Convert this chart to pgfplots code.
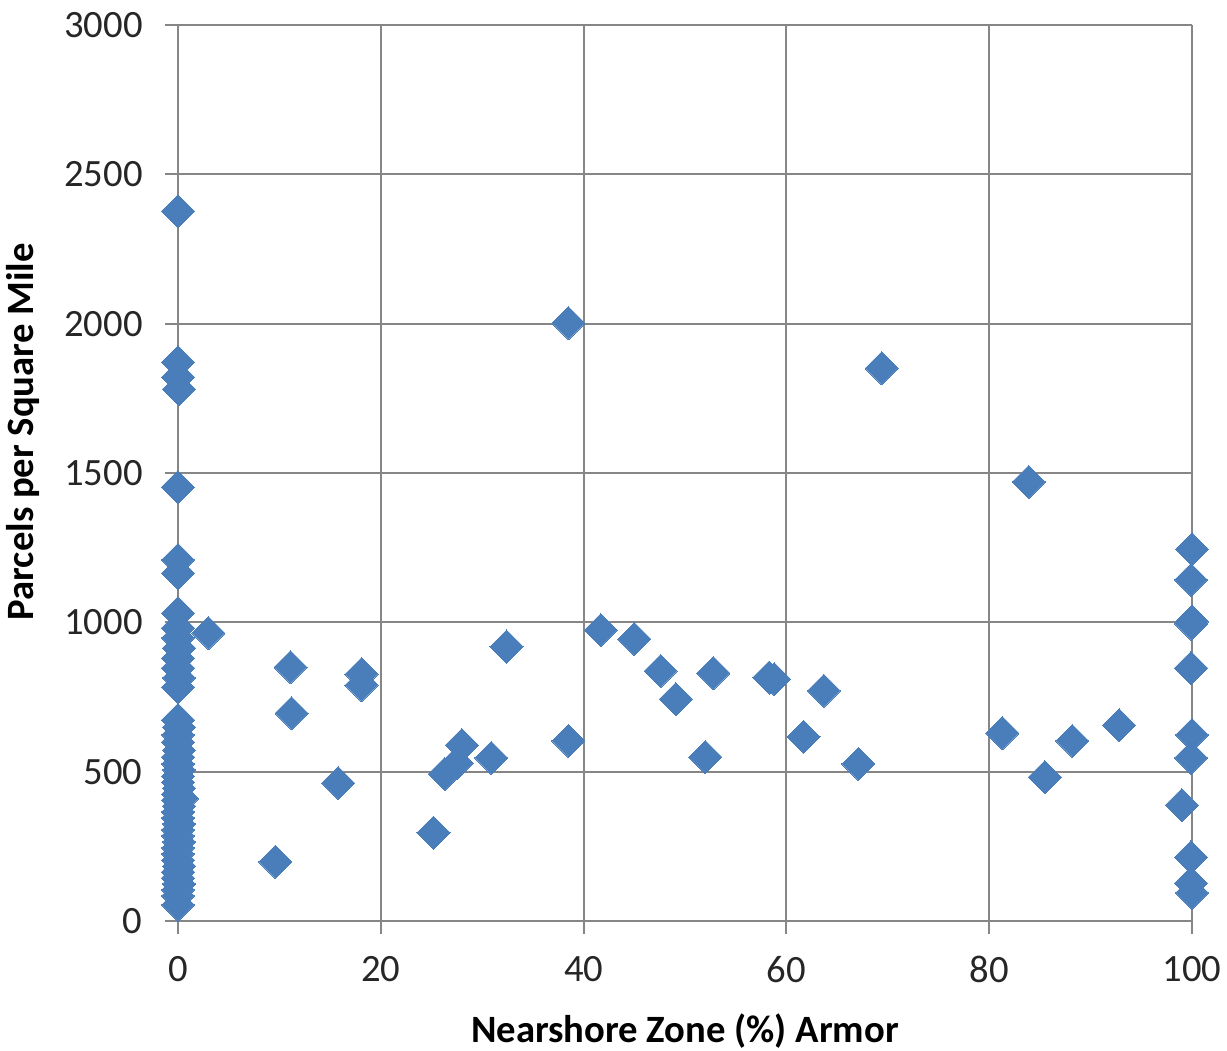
\documentclass[border=0pt]{standalone}
\usepackage{fontspec}
\setmainfont{Carlito}
\usepackage{pgfplots}
\pgfplotsset{compat=1.18}
\definecolor{mk}{HTML}{4A7EBB}
\definecolor{gr}{RGB}{134,134,134}
\begin{document}
\begin{tikzpicture}
\begin{axis}[
  name=ax,
  scale only axis,
  width=101.4mm, height=89.6mm,
  xmin=0, xmax=100, ymin=0, ymax=3000,
  xtick={0,20,...,100}, ytick={0,500,...,3000},
  grid=major,
  major grid style={gr, line width=0.55pt},
  axis line style={gr, line width=0.55pt},
  axis x line*=bottom, axis y line*=left,
  tick style={gr, line width=0.55pt},
  tick align=outside,
  major tick length=1.3mm,
  clip=false,
  /pgf/number format/assume math mode=true,
  /pgf/number format/1000 sep={},
  ticklabel style={font=\fontsize{11}{13}\selectfont, text=black!85},
  xticklabel style={yshift=-1.0mm},
  yticklabel style={xshift=-1.0mm},
  xlabel={\textbf{Nearshore Zone (\%) Armor}},
  ylabel={\textbf{Parcels per Square Mile}},
  label style={font=\fontsize{11}{13}\selectfont},
  xlabel style={at={(axis description cs:0.5,0)}, anchor=north, yshift=-8.0mm},
  ylabel style={at={(ticklabel cs:0.546)}},
]
\addplot[only marks, mark=square*, mark size=1.17mm,
  mark options={rotate=45, fill=mk, draw=mk, line width=0pt}]
coordinates {
(0,2377) (0,1871) (0,1821) (0.1,1781) (0,1453) (0,1209) (0,1165) (0,1031)
(0,981) (0,948) (0.1,914) (0,880) (0,847) (0.1,814) (0,783)
(0,673) (0.1,649) (0,623) (0,599) (0.1,572) (0,549) (0,526) (0.1,506)
(0,485) (0,465) (0.1,445) (0,425) (0.4,410) (0,405) (0.1,385) (0,365) (0,345)
(0.1,325) (0,305) (0,285) (0.1,265) (0,245) (0,225) (0,204) (0.1,184)
(0,164) (0,144) (0.1,124) (0,104) (0,84) (0,54)
(3,964) (9.6,198) (11.1,850) (11.2,696) (15.8,462) (18.1,827) (18.1,790)
(25.2,296) (26.3,492) (27.5,529) (28.0,589) (30.9,546) (32.4,919)
(38.5,2002) (38.5,603) (41.7,974) (45.0,944) (47.6,837) (49.1,743)
(52.0,549) (52.8,830) (58.3,815) (58.8,810) (61.7,617) (63.7,771) (67.1,526)
(69.4,1851) (81.3,629) (83.9,1470) (85.5,482) (88.2,603) (92.8,656)
(100,1245) (99.9,1142) (100,1003) (99.9,996) (99.9,847) (100,623) (99.9,546)
(99.0,388) (99.9,214) (99.9,127) (100,94)
};
\end{axis}
\pgfresetboundingbox
\path[use as bounding box] (ax.south west) ++(-17.8mm,-12.9mm) rectangle ++(122.7mm,105mm);
\end{tikzpicture}
\end{document}
